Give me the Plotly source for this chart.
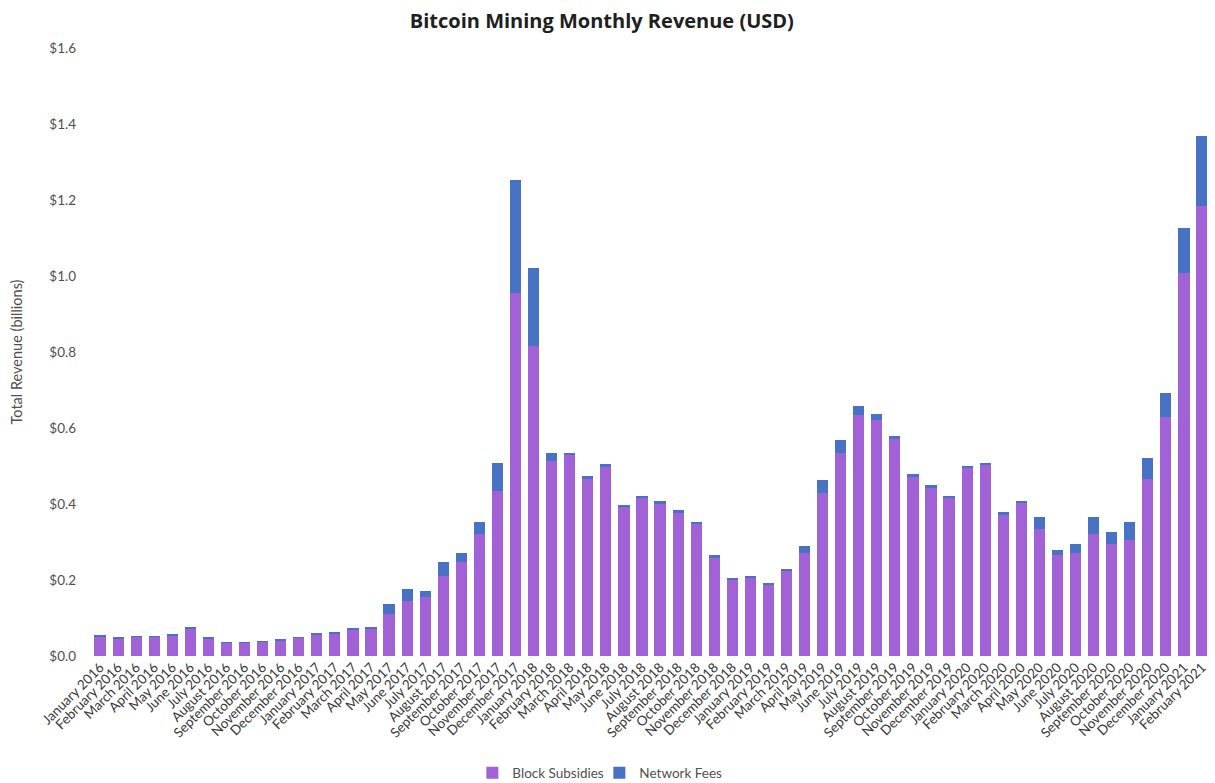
import plotly.graph_objects as go

months = [
    "January 2016", "February 2016", "March 2016", "April 2016", "May 2016", "June 2016",
    "July 2016", "August 2016", "September 2016", "October 2016", "November 2016", "December 2016",
    "January 2017", "February 2017", "March 2017", "April 2017", "May 2017", "June 2017",
    "July 2017", "August 2017", "September 2017", "October 2017", "November 2017", "December 2017",
    "January 2018", "February 2018", "March 2018", "April 2018", "May 2018", "June 2018",
    "July 2018", "August 2018", "September 2018", "October 2018", "November 2018", "December 2018",
    "January 2019", "February 2019", "March 2019", "April 2019", "May 2019", "June 2019",
    "July 2019", "August 2019", "September 2019", "October 2019", "November 2019", "December 2019",
    "January 2020", "February 2020", "March 2020", "April 2020", "May 2020", "June 2020",
    "July 2020", "August 2020", "September 2020", "October 2020", "November 2020", "December 2020",
    "January 2021", "February 2021",
]

block_subsidies = [
    0.052, 0.047, 0.050, 0.050, 0.055, 0.073, 0.047, 0.035, 0.035, 0.038, 0.042, 0.049,
    0.057, 0.060, 0.071, 0.073, 0.111, 0.145,
    0.156, 0.211, 0.248, 0.321, 0.433, 0.955,
    0.817, 0.512, 0.530, 0.465, 0.498, 0.391,
    0.416, 0.400, 0.377, 0.348, 0.260, 0.201,
    0.207, 0.189, 0.225, 0.272, 0.429, 0.534,
    0.635, 0.620, 0.571, 0.471, 0.442, 0.416,
    0.495, 0.502, 0.372, 0.403, 0.335, 0.267,
    0.270, 0.321, 0.296, 0.306, 0.466, 0.628,
    1.008, 1.183,
]

network_fees = [
    0.001, 0.001, 0.001, 0.001, 0.001, 0.002, 0.001, 0.001, 0.001, 0.001, 0.001, 0.001,
    0.002, 0.002, 0.003, 0.003, 0.026, 0.032,
    0.014, 0.037, 0.022, 0.032, 0.074, 0.298,
    0.205, 0.023, 0.005, 0.008, 0.007, 0.007,
    0.005, 0.007, 0.006, 0.005, 0.005, 0.004,
    0.004, 0.004, 0.005, 0.018, 0.033, 0.035,
    0.023, 0.016, 0.008, 0.009, 0.007, 0.004,
    0.005, 0.006, 0.008, 0.005, 0.030, 0.011,
    0.026, 0.044, 0.031, 0.046, 0.056, 0.064,
    0.118, 0.185,
]

y_ticks = [0, 0.2, 0.4, 0.6, 0.8, 1.0, 1.2, 1.4, 1.6]

FONT = "Lato"

fig = go.Figure()
fig.add_trace(go.Bar(x=months, y=block_subsidies, name="Block Subsidies",
                     marker=dict(color="#A262D7", line=dict(width=0))))
fig.add_trace(go.Bar(x=months, y=network_fees, name="Network Fees",
                     marker=dict(color="#4873C5", line=dict(width=0))))

fig.update_layout(
    barmode="stack",
    bargap=0.38,
    width=1207, height=775,
    margin=dict(l=83, r=4, t=40, b=127, autoexpand=False),
    paper_bgcolor="white", plot_bgcolor="white",
    font=dict(family=FONT, color="#404040"),
    title=dict(text="<b>Bitcoin Mining Monthly Revenue (USD)</b>",
               x=0.492, xanchor="center", y=0.983, yanchor="middle",
               font=dict(family="Open Sans", size=20, color="#202020")),
    showlegend=True,
    legend=dict(orientation="h", x=0.3405, xanchor="left", y=-0.1924, yanchor="middle",
                entrywidth=82, entrywidthmode="pixels",
                font=dict(family=FONT, size=13.5, color="#505050"), traceorder="normal"),
    xaxis=dict(tickangle=-45, tickfont=dict(family=FONT, size=13.5, color="#383838"),
               showgrid=False, showline=False, ticks="", automargin=False),
    yaxis=dict(range=[0, 1.6], tickvals=y_ticks, tickformat="$.1f",
               tickfont=dict(family=FONT, size=13.5, color="#505050"),
               showgrid=False, zeroline=False, showline=False, ticks="",
               ticklabelstandoff=14,
               title=dict(text="Total Revenue (billions)", standoff=23,
                          font=dict(family=FONT, size=14.5, color="#505050")),
               automargin=False),
)

fig.write_html("out.html")
